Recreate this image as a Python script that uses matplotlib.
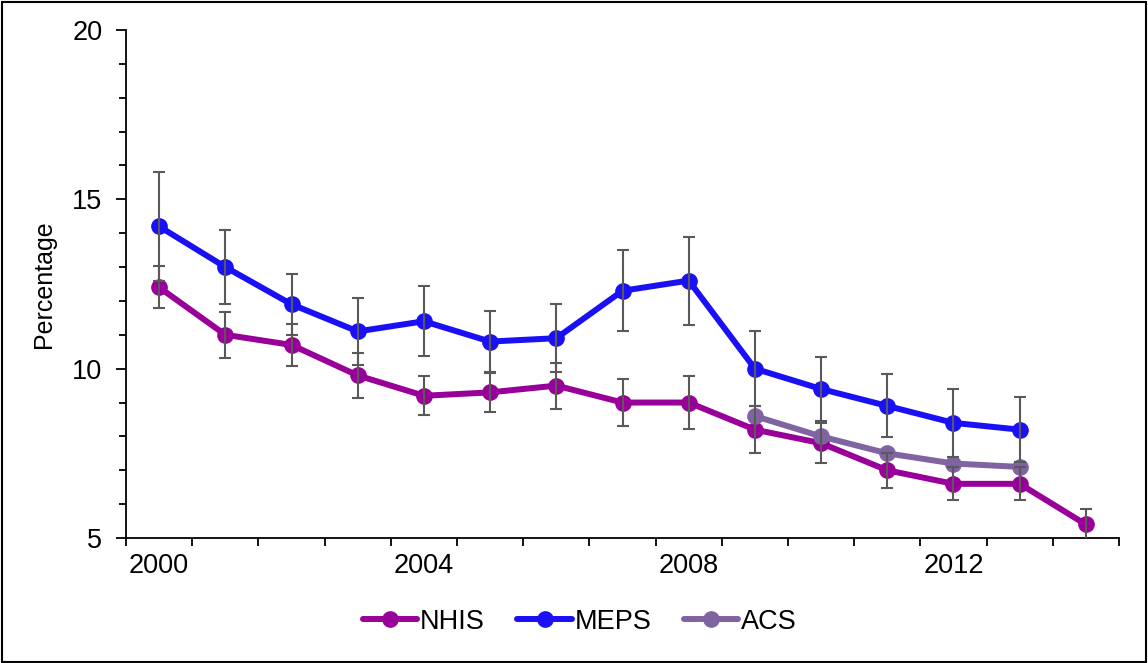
import numpy as np
import matplotlib
matplotlib.use('Agg')
import matplotlib.pyplot as plt
from matplotlib.patches import Rectangle
from matplotlib.ticker import FixedLocator, MultipleLocator

plt.rcParams['font.family'] = ['Liberation Sans', 'DejaVu Sans']

years = list(range(2000, 2015))

nhis = [12.4, 11.0, 10.7, 9.8, 9.2, 9.3, 9.5, 9.0, 9.0, 8.2, 7.8, 7.0, 6.6, 6.6, 5.4]
nhis_err = [0.62, 0.68, 0.61, 0.66, 0.58, 0.58, 0.68, 0.70, 0.78, 0.69, 0.59, 0.52, 0.49, 0.49, 0.45]

meps = [14.2, 13.0, 11.9, 11.1, 11.4, 10.8, 10.9, 12.3, 12.6, 10.0, 9.4, 8.9, 8.4, 8.2]
meps_err = [1.6, 1.1, 0.9, 1.0, 1.03, 0.9, 1.0, 1.2, 1.3, 1.1, 0.95, 0.93, 1.0, 0.95]

acs_years = [2009, 2010, 2011, 2012, 2013]
acs = [8.6, 8.0, 7.5, 7.2, 7.1]

year_labels = ['2000', '2004', '2008', '2012']

fig = plt.figure(figsize=(11.48, 6.63), dpi=100)
ax = fig.add_axes([0.1098, 0.1885, 0.8649, 0.7663])

fig.patches.append(Rectangle((0.002, 0.002), 0.996, 0.995, transform=fig.transFigure,
                             fill=False, edgecolor='black', linewidth=1.5))

pos = {y: i for i, y in enumerate(years)}
x_nhis = [pos[y] for y in years[:len(nhis)]]
x_meps = [pos[y] for y in years[:len(meps)]]
x_acs = [pos[y] for y in acs_years]

style = dict(linewidth=4.3, marker='o', markersize=11, solid_capstyle='round')
ax.plot(x_nhis, nhis, color='#990099', label='NHIS', zorder=3, **style)
ax.plot(x_meps, meps, color='#1a10f5', label='MEPS', zorder=3, **style)
ax.plot(x_acs, acs, color='#8064a2', label='ACS', zorder=3, **style)

eb = dict(fmt='none', ecolor='#595959', elinewidth=1.5, capsize=4.5, capthick=1.5, zorder=4)
ax.errorbar(x_nhis, nhis, yerr=nhis_err, **eb)
ax.errorbar(x_meps, meps, yerr=meps_err, **eb)

ax.set_xlim(-0.5, len(years) - 0.5)
ax.set_ylim(5, 20)

ax.xaxis.set_major_locator(FixedLocator(np.arange(-0.5, len(years), 1.0)))
ax.xaxis.set_minor_locator(FixedLocator([pos[int(t)] for t in year_labels]))
ax.set_xticklabels([], minor=False)
ax.set_xticklabels(year_labels, minor=True)
ax.tick_params(axis='x', which='major', direction='out', length=6, width=1.3)
ax.tick_params(axis='x', which='minor', length=0, pad=11, labelsize=19.5)

ax.yaxis.set_major_locator(FixedLocator([5, 10, 15, 20]))
ax.yaxis.set_minor_locator(MultipleLocator(1))
ax.tick_params(axis='y', which='major', direction='out', length=7, width=1.3, labelsize=19.5, pad=10)
ax.tick_params(axis='y', which='minor', direction='out', length=5, width=1.3)

for side in ['top', 'right']:
    ax.spines[side].set_visible(False)
for side in ['left', 'bottom']:
    ax.spines[side].set_linewidth(1.3)

ax.set_ylabel('Percentage', fontsize=18, labelpad=12)

fig.legend(loc='center', bbox_to_anchor=(0.505, 0.062), ncol=3, frameon=False,
           fontsize=19.5, handlelength=2.0, handletextpad=0.1, columnspacing=1.2)

fig.savefig('out.png', dpi=100)
